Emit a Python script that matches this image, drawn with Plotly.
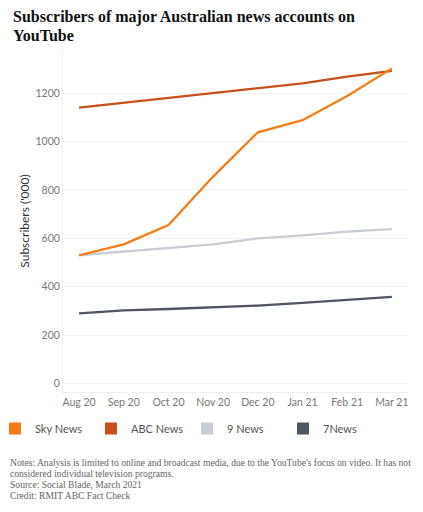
import plotly.graph_objects as go

months = ["Aug 20", "Sep 20", "Oct 20", "Nov 20", "Dec 20", "Jan 21", "Feb 21", "Mar 21"]
sky_news = [530, 575, 655, 855, 1038, 1088, 1188, 1302]
abc_news = [1140, 1160, 1180, 1200, 1220, 1240, 1268, 1292]
nine_news = [530, 545, 560, 575, 600, 612, 628, 638]
seven_news = [290, 302, 308, 314, 322, 333, 345, 358]

series = [
    ("Sky News", sky_news, "#F57C16"),
    ("ABC News", abc_news, "#C8501C"),
    ("9 News", nine_news, "#C6CDD4"),
    ("7News", seven_news, "#4F5663"),
]

# page body has an 8px margin, so figure coordinates = screen coordinates - 8
OFF = 8
W, H = 423 - 2 * OFF, 512 - 2 * OFF

fig = go.Figure()
for name, vals, color in reversed(series):
    fig.add_trace(go.Scatter(x=months, y=vals, mode="lines", name=name,
                             line=dict(color=color, width=2.3), showlegend=False,
                             hoverinfo="x+y+name"))
for name, vals, color in series:
    fig.add_trace(go.Scatter(x=[None], y=[None], mode="markers", name=name,
                             marker=dict(symbol="square", size=12, color=color),
                             showlegend=True))

PT, PB = 50 - OFF, 392 - OFF
PH = PB - PT
PL, PR = 63 - OFF, 408 - OFF
PW = PR - PL

def py(sy):
    return (PB - (sy - OFF)) / PH

def pxx(sx):
    return ((sx - OFF) - PL) / PW

notes = [
    "Notes: Analysis is limited to online and broadcast media, due to the YouTube's focus on video. It has not",
    "considered individual television programs.",
    "Source: Social Blade, March 2021",
    "Credit: RMIT ABC Fact Check",
]
note_y = [462, 473, 484, 495]

annotations = [
    dict(text="<b>Subscribers of major Australian news accounts on</b>",
         xref="paper", yref="paper", x=pxx(11), y=py(17), xanchor="left", yanchor="middle",
         showarrow=False, font=dict(family="Liberation Serif", size=16, color="#111")),
    dict(text="<b>YouTube</b>",
         xref="paper", yref="paper", x=pxx(11), y=py(35.5), xanchor="left", yanchor="middle",
         showarrow=False, font=dict(family="Liberation Serif", size=16, color="#111")),
]
for t, yy in zip(notes, note_y):
    annotations.append(dict(text=t, xref="paper", yref="paper", x=pxx(8), y=py(yy),
                            xanchor="left", yanchor="middle", showarrow=False,
                            font=dict(family="Liberation Serif", size=9.6, color="#666")))

fig.update_layout(
    width=W, height=H,
    margin=dict(l=PL, r=W - PR, t=PT, b=H - PB, autoexpand=False),
    paper_bgcolor="white", plot_bgcolor="white",
    xaxis=dict(type="category", categoryorder="array", categoryarray=months,
               range=[-0.36, 7.36], showgrid=False, showline=True,
               linecolor="#eeeeee", linewidth=1, ticks="", automargin=False,
               tickfont=dict(family="Lato", size=10.5, color="#777"), fixedrange=True),
    yaxis=dict(range=[-35, 1378], tickvals=[0, 200, 400, 600, 800, 1000, 1200],
               showgrid=True, gridcolor="#f2f2f2", gridwidth=1, zeroline=False,
               showline=True, linecolor="#eeeeee", linewidth=1, ticks="",
               automargin=False,
               tickfont=dict(family="Lato", size=10.5, color="#777"),
               title=dict(text="Subscribers ('000)", standoff=3,
                          font=dict(family="Lato", size=12, color="#333"))),
    legend=dict(orientation="h", xref="paper", yref="paper",
                x=(-13 - PL) / PW, xanchor="left", y=(PB - 406) / PH, yanchor="top",
                entrywidth=51, entrywidthmode="pixels",
                font=dict(family="Lato", size=11, color="#555"),
                itemsizing="constant", bgcolor="rgba(0,0,0,0)"),
    showlegend=True,
    annotations=annotations,
)

fig.write_html("out.html")
